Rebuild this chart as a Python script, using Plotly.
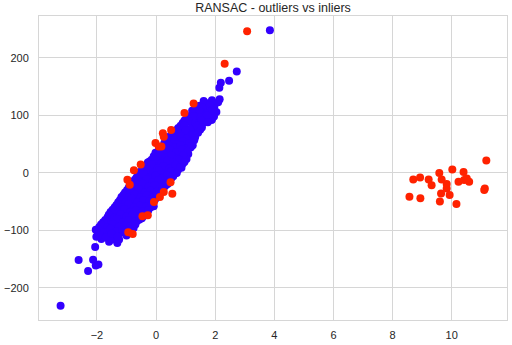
import plotly.graph_objects as go

# Inlier points (blue): main rows along the fitted line
inlier_x = [
    1.48, 1.72, 1.97, 2.10,
    1.22, 1.42, 1.63, 1.86, 2.04,
    1.15, 1.36, 1.57, 1.79, 1.96,
    0.96, 1.16, 1.41, 1.63, 1.88,
    0.83, 1.02, 1.24, 1.46, 1.60,
    0.68, 0.88, 1.08, 1.31, 1.49,
    0.53, 0.72, 0.93, 1.12, 1.36,
    0.36, 0.55, 0.76, 0.95, 1.16, 1.32,
    0.28, 0.48, 0.69, 0.88, 1.07, 1.24,
    0.19, 0.38, 0.58, 0.79, 0.98, 1.17,
    -0.02, 0.18, 0.39, 0.58, 0.78, 0.97, 1.09,
    -0.15, 0.05, 0.25, 0.46, 0.65, 0.86, 1.03,
    -0.28, -0.08, 0.12, 0.32, 0.52, 0.72, 0.90,
    -0.44, -0.25, -0.05, 0.15, 0.35, 0.55, 0.74, 0.86,
    -0.56, -0.35, -0.15, 0.05, 0.25, 0.45, 0.64,
    -0.66, -0.45, -0.25, -0.05, 0.15, 0.35, 0.52,
    -0.78, -0.58, -0.38, -0.18, 0.02, 0.22, 0.40,
    -0.92, -0.72, -0.52, -0.32, -0.12, 0.08, 0.28,
    -1.05, -0.85, -0.65, -0.45, -0.25, -0.05, 0.18,
    -1.17, -0.98, -0.78, -0.58, -0.38, -0.18, 0.02,
    -1.28, -1.08, -0.88, -0.68, -0.48, -0.28, -0.08,
    -1.40, -1.20, -1.00, -0.80, -0.60, -0.40, -0.18,
    -1.54, -1.35, -1.15, -0.95, -0.75, -0.53, -0.35,
    -1.64, -1.45, -1.25, -1.05, -0.85, -0.63, -0.48,
    -1.79, -1.60, -1.40, -1.20, -1.00, -0.80, -0.66,
    -1.92, -1.72, -1.52, -1.32, -1.12, -0.92, -0.76,
    -1.97, -1.78, -1.58, -1.38, -1.18, -1.00,
    -2.02, -1.85, -1.65, -1.48,
    3.85, 2.73, 2.47, 2.19, 2.14, 2.15, 1.89, 1.61, 1.89,
    -3.23, -2.62, -2.30, -2.13, -2.04, -1.95, -2.06, -2.04,
    -1.59, -1.31, -1.25, -1.47,
]
inlier_y = [
    117, 121, 115, 123,
    108, 113, 109, 114, 106,
    99, 104, 100, 105, 98,
    91, 96, 90, 95, 92,
    82, 88, 84, 80, 87,
    74, 79, 73, 78, 75,
    70, 65, 69, 64, 71,
    57, 61, 55, 60, 56, 62,
    52, 47, 51, 46, 53, 48,
    40, 44, 39, 43, 38, 44,
    35, 30, 34, 31, 36, 29, 33,
    23, 27, 22, 26, 21, 27, 24,
    18, 14, 19, 13, 17, 12, 16,
    5, 10, 4, 9, 3, 8, 5, 9,
    1, -4, 2, -3, 0, -5, -1,
    -8, -13, -7, -12, -8, -13, -9,
    -16, -21, -15, -20, -17, -22, -19,
    -25, -29, -24, -30, -26, -28, -24,
    -34, -38, -33, -39, -35, -37, -32,
    -42, -47, -41, -46, -43, -48, -41,
    -51, -55, -50, -56, -52, -54, -58,
    -60, -64, -59, -65, -61, -63, -60,
    -68, -73, -67, -72, -69, -74, -70,
    -77, -82, -76, -81, -78, -83, -79,
    -86, -90, -85, -91, -87, -89, -84,
    -94, -99, -93, -98, -95, -100, -96,
    -103, -107, -102, -108, -104, -109,
    -111, -115, -110, -114,
    248.3, 176.4, 160.3, 156.9, 148.3, 128.0, 126.4, 125.0, 93.6,
    -231.0, -151.7, -170.7, -151.2, -161.0, -159.3, -128.8, -99.0,
    -120.0, -122.0, -116.0, -116.0,
]

# Inlier points (blue) lying between the main rows, where the band is densest
inlier_mid_x = [
    1.35, 1.58, 1.82,
    1.27, 1.48, 1.70, 1.90,
    1.05, 1.27, 1.50, 1.72,
    0.90, 1.10, 1.32, 1.53, 1.75,
    0.75, 0.95, 1.16, 1.38, 1.55,
    0.60, 0.80, 1.00, 1.22, 1.42,
    0.45, 0.64, 0.84, 1.04, 1.25,
    0.32, 0.52, 0.72, 0.92, 1.12, 1.29,
    0.22, 0.42, 0.62, 0.83, 1.02, 1.20,
    0.08, 0.28, 0.48, 0.68, 0.88, 1.06,
    -0.08, 0.12, 0.32, 0.52, 0.72, 0.92,
    -0.22, -0.02, 0.18, 0.38, 0.58, 0.78, 0.96,
    -0.36, -0.15, 0.05, 0.25, 0.45, 0.65, 0.82,
    -0.50, -0.30, -0.10, 0.10, 0.30, 0.50, 0.70,
    -0.62, -0.42, -0.22, -0.02, 0.18, 0.38, 0.58,
    -0.72, -0.52, -0.32, -0.12, 0.08, 0.28, 0.45,
    -0.85, -0.65, -0.45, -0.25, -0.05, 0.15, 0.34,
    -0.98, -0.78, -0.58, -0.38, -0.18, 0.02, 0.22,
    -1.10, -0.92, -0.72, -0.52, -0.32, -0.12, 0.10,
    -1.22, -1.03, -0.83, -0.63, -0.43, -0.23, -0.03,
    -1.34, -1.14, -0.94, -0.74, -0.54, -0.34, -0.14,
    -1.47, -1.27, -1.07, -0.87, -0.67, -0.46, -0.26,
    -1.60, -1.40, -1.20, -1.00, -0.80, -0.58, -0.42,
    -1.72, -1.52, -1.32, -1.12, -0.92, -0.72, -0.56,
    -1.86, -1.66, -1.46, -1.26, -1.06, -0.86, -0.70,
    -1.95, -1.75, -1.55, -1.35, -1.15, -0.95,
    -1.90, -1.70, -1.50, -1.30,
]
inlier_mid_y = [
    116, 114, 118,
    104, 107, 103, 109,
    95, 99, 96, 100,
    87, 90, 86, 91, 88,
    78, 83, 77, 82, 79,
    72, 68, 74, 67, 70,
    63, 60, 64, 59, 66,
    53, 56, 50, 55, 51, 57,
    46, 49, 44, 48, 42, 47,
    38, 35, 40, 36, 41, 37,
    29, 32, 27, 30, 25, 31,
    20, 24, 17, 21, 18, 23, 19,
    11, 15, 8, 12, 7, 14, 10,
    3, 6, -1, 4, -2, 3, 0,
    -6, -2, -9, -5, -10, -4, -6,
    -12, -17, -11, -16, -13, -18, -13,
    -21, -25, -19, -24, -21, -25, -21,
    -30, -33, -28, -34, -31, -33, -29,
    -38, -43, -37, -42, -39, -43, -38,
    -47, -51, -45, -51, -47, -50, -46,
    -56, -60, -54, -60, -57, -59, -55,
    -64, -69, -63, -68, -65, -67, -65,
    -73, -77, -72, -76, -73, -78, -75,
    -82, -86, -80, -86, -82, -85, -81,
    -90, -95, -89, -94, -91, -93, -90,
    -98, -103, -97, -102, -99, -104,
    -109, -112, -106, -111,
]

# Outlier points (red): stragglers near the band and the detached cluster
outlier_x = [
    3.08, 2.32, 1.27, 0.96, 0.51, 0.23, 0.26, -0.02, 0.09, 0.18,
    -0.52, -0.75, -0.97, -0.89, 0.49, 0.26, 0.13, 0.55, -0.07,
    -0.46, -0.28, -0.94, -0.79,
    11.17, 10.02, 10.40, 9.58, 8.70, 8.93, 9.22, 9.32, 9.66, 9.83,
    9.83, 9.93, 9.64, 9.60, 10.16, 10.23, 10.42, 10.51, 10.59, 11.12,
    11.10, 8.57, 8.94,
]
outlier_y = [
    246.6, 189.7, 120.7, 104.0, 74.7, 69.0, 63.0, 52.2, 45.9, 45.9,
    14.8, 4.5, -12.0, -20.7, -16.2, -33.4, -42.0, -36.2, -50.7,
    -75.3, -73.6, -103.4, -106.4,
    21.7, 5.7, 1.7, 0.0, -11.5, -8.1, -11.5, -21.3, -11.5, -19.5,
    -27.0, -38.6, -35.7, -50.0, -54.0, -15.5, -12.5, -9.8, -15.5, -27.0,
    -29.8, -41.4, -44.3,
]

x_ticks = [-2, 0, 2, 4, 6, 8, 10]
y_ticks = [-200, -100, 0, 100, 200]

fig = go.Figure()
fig.add_trace(go.Scatter(
    x=inlier_x + inlier_mid_x, y=inlier_y + inlier_mid_y,
    mode="markers", name="inliers",
    marker=dict(color="#3300ff", size=8, line=dict(width=0)),
))
fig.add_trace(go.Scatter(
    x=outlier_x, y=outlier_y, mode="markers", name="outliers",
    marker=dict(color="#ff2200", size=8, line=dict(width=0)),
))

axis_style = dict(
    showgrid=True, gridcolor="#d6d6d6", gridwidth=1,
    zeroline=False, showline=True, linecolor="#d6d6d6", linewidth=1,
    mirror=True, ticks="outside", tickcolor="rgba(0,0,0,0)",
    tickfont=dict(family="Liberation Sans, Arial, sans-serif", size=11, color="#262626"),
)

fig.update_xaxes(range=[-3.96, 11.87], tickvals=x_ticks, ticklen=5, **axis_style)
fig.update_yaxes(range=[-256, 273], tickvals=y_ticks, ticklen=7, **axis_style)

fig.update_layout(
    width=512, height=345,
    margin=dict(l=38, r=4, t=16, b=22),
    paper_bgcolor="white", plot_bgcolor="white",
    showlegend=False,
    title=dict(
        text="RANSAC - outliers vs inliers",
        x=(38 + 508) / 2 / 512, xanchor="center",
        y=1 - 8 / 345, yanchor="middle",
        font=dict(family="Liberation Sans, Arial, sans-serif", size=12.5, color="#262626"),
    ),
)

fig.write_html("out.html")
